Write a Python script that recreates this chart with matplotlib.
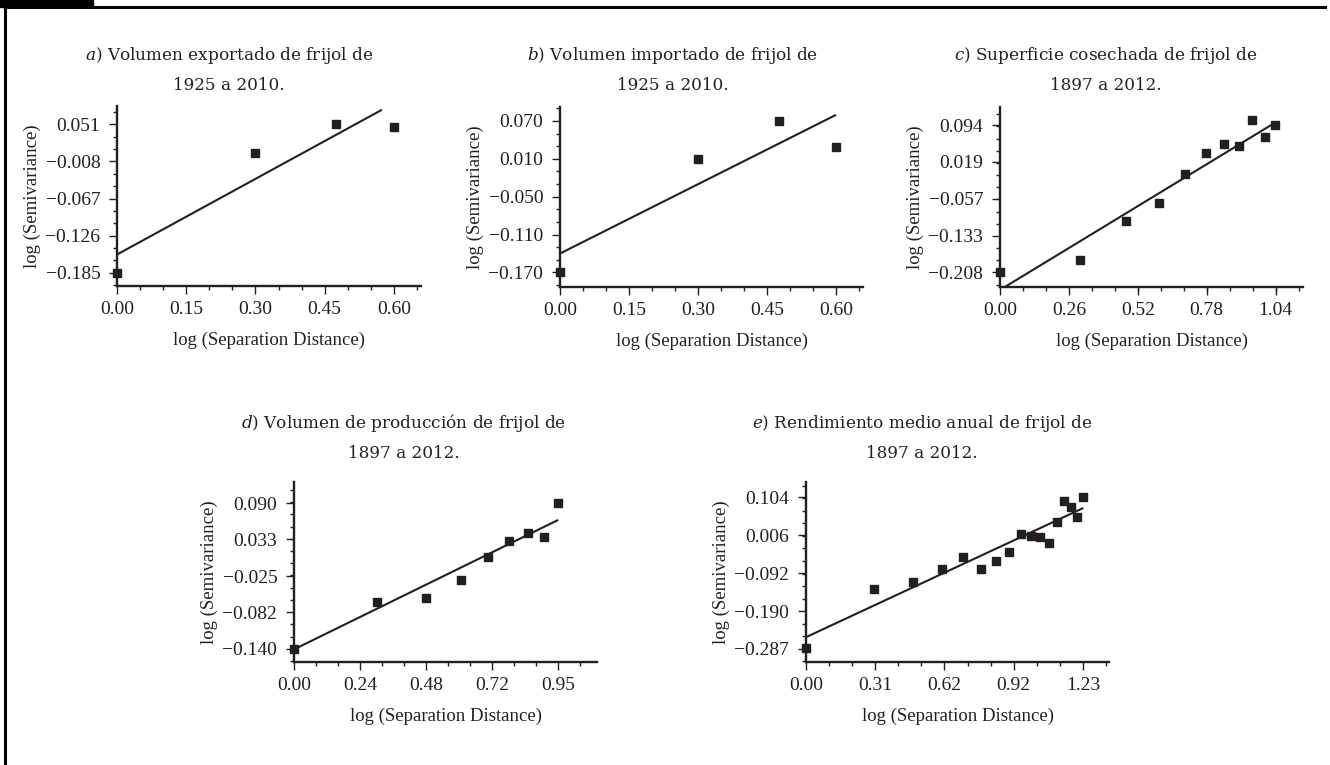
import numpy as np
import matplotlib
matplotlib.use("Agg")
import matplotlib.pyplot as plt
from matplotlib.ticker import FixedLocator, FixedFormatter
from matplotlib.lines import Line2D
from matplotlib.patches import Rectangle

W, H = 1330, 765
INK = "#231f20"

plt.rcParams["font.family"] = ["Liberation Serif", "DejaVu Serif"]
plt.rcParams["mathtext.fontset"] = "dejavuserif"

# --- data: x = log(separation distance), y = log(semivariance) ---
lag_x = [0.000, 0.301, 0.477, 0.602, 0.699, 0.778, 0.845, 0.903, 0.954,
         1.000, 1.041, 1.079, 1.114, 1.146, 1.176, 1.204, 1.230]

# a) exported volume 1925-2010
a_x = lag_x[:4]
a_y = [-0.185, 0.006, 0.051, 0.047]
a_fit_x = [0.0, 0.576]
a_fit_y = [-0.156, 0.074]
a_xticks = [0.0, 0.1505, 0.301, 0.4515, 0.602]
a_xlabels = ["0.00", "0.15", "0.30", "0.45", "0.60"]
a_yticks = [-0.185, -0.126, -0.067, -0.008, 0.051]
a_ylabels = ["\u22120.185", "\u22120.126", "\u22120.067", "\u22120.008", "0.051"]

# b) imported volume 1925-2010
b_x = lag_x[:4]
b_y = [-0.170, 0.010, 0.070, 0.028]
b_fit_x = [0.0, 0.602]
b_fit_y = [-0.140, 0.0795]
b_xticks = a_xticks
b_xlabels = a_xlabels
b_yticks = [-0.170, -0.110, -0.050, 0.010, 0.070]
b_ylabels = ["\u22120.170", "\u22120.110", "\u22120.050", "0.010", "0.070"]

# c) harvested area 1897-2012
c_x = lag_x[:11]
c_y = [-0.208, -0.182, -0.103, -0.065, -0.005, 0.038, 0.056, 0.051, 0.105, 0.071, 0.095]
c_fit_x = [0.0, 1.043]
c_fit_y = [-0.244, 0.101]
c_xticks = [0.0, 0.2604, 0.5207, 0.7811, 1.0414]
c_xlabels = ["0.00", "0.26", "0.52", "0.78", "1.04"]
c_yticks = [-0.208, -0.133, -0.057, 0.019, 0.094]
c_ylabels = ["\u22120.208", "\u22120.133", "\u22120.057", "0.019", "0.094"]

# d) production volume 1897-2012
d_x = lag_x[:9]
d_y = [-0.140, -0.066, -0.060, -0.031, 0.005, 0.030, 0.043, 0.037, 0.090]
d_fit_x = [0.0, 0.954]
d_fit_y = [-0.141, 0.064]
d_xticks = [0.0, 0.2385, 0.477, 0.7155, 0.954]
d_xlabels = ["0.00", "0.24", "0.48", "0.72", "0.95"]
d_yticks = [-0.140, -0.082, -0.025, 0.033, 0.090]
d_ylabels = ["\u22120.140", "\u22120.082", "\u22120.025", "0.033", "0.090"]

# e) mean annual yield 1897-2012
e_x = lag_x
e_y = [-0.286, -0.134, -0.116, -0.081, -0.050, -0.080, -0.060, -0.038, 0.009,
       0.004, 0.002, -0.013, 0.041, 0.094, 0.078, 0.052, 0.105]
e_fit_x = [0.0, 1.232]
e_fit_y = [-0.257, 0.076]
e_xticks = [0.0, 0.3076, 0.6152, 0.9228, 1.2304]
e_xlabels = ["0.00", "0.31", "0.62", "0.92", "1.23"]
e_yticks = [-0.287, -0.190, -0.092, 0.006, 0.104]
e_ylabels = ["\u22120.287", "\u22120.190", "\u22120.092", "0.006", "0.104"]

titles = [
    (r"$\mathit{a}$) Volumen exportado de frijol de", "1925 a 2010."),
    (r"$\mathit{b}$) Volumen importado de frijol de", "1925 a 2010."),
    (r"$\mathit{c}$) Superficie cosechada de frijol de", "1897 a 2012."),
    (r"$\mathit{d}$) Volumen de producción de frijol de", "1897 a 2012."),
    (r"$\mathit{e}$) Rendimiento medio anual de frijol de", "1897 a 2012."),
]


def minor_locs(ticks, lim):
    step = (ticks[1] - ticks[0]) / 3.0
    k0 = int(np.ceil((lim[0] - ticks[0]) / step - 1e-6))
    k1 = int(np.floor((lim[1] - ticks[0]) / step + 1e-6))
    return [ticks[0] + k * step for k in range(k0, k1 + 1)]


fig = plt.figure(figsize=(W / 100, H / 100), dpi=100)


def panel(box, x, y, fx, fy, xlim, ylim, xt, xl, yt, yl, title, tcx, ty):
    left, top, right, bottom = box
    ax = fig.add_axes([left / W, 1 - bottom / H, (right - left) / W, (bottom - top) / H])
    ax.plot(fx, fy, color=INK, lw=1.5, solid_capstyle="butt")
    ax.plot(x, y, "s", color=INK, ms=5.8, clip_on=False, zorder=3)
    ax.set_xlim(xlim)
    ax.set_ylim(ylim)
    ax.xaxis.set_major_locator(FixedLocator(xt))
    ax.xaxis.set_major_formatter(FixedFormatter(xl))
    ax.yaxis.set_major_locator(FixedLocator(yt))
    ax.yaxis.set_major_formatter(FixedFormatter(yl))
    ax.xaxis.set_minor_locator(FixedLocator(minor_locs(xt, xlim)))
    ax.yaxis.set_minor_locator(FixedLocator(minor_locs(yt, ylim)))
    for s in ("top", "right"):
        ax.spines[s].set_visible(False)
    for s in ("left", "bottom"):
        ax.spines[s].set_linewidth(1.7)
        ax.spines[s].set_color(INK)
    ax.tick_params(which="major", length=5.5, width=1.0, color=INK,
                   labelsize=14, labelcolor=INK)
    ax.tick_params(axis="y", which="major", pad=6.5)
    ax.tick_params(axis="x", which="major", pad=5.5)
    ax.tick_params(which="minor", length=3.2, width=1.0, color=INK)
    ax.set_xlabel("log (Separation Distance)", fontsize=13.5, color=INK, labelpad=10)
    ax.set_ylabel("log (Semivariance)", fontsize=13.5, color=INK, labelpad=3)
    fig.text(tcx / W, 1 - ty / H, title[0], ha="center", va="center",
             family="DejaVu Serif", fontsize=12.2, color=INK)
    fig.text(tcx / W, 1 - (ty + 30) / H, title[1], ha="center", va="center",
             family="DejaVu Serif", fontsize=12.2, color=INK)
    return ax


panel((117, 106, 421, 286), a_x, a_y, a_fit_x, a_fit_y, (0, 0.661), (-0.206, 0.080),
      a_xticks, a_xlabels, a_yticks, a_ylabels, titles[0], 229, 55)
panel((560, 107, 863, 287), b_x, b_y, b_fit_x, b_fit_y, (0, 0.661), (-0.193, 0.092),
      b_xticks, b_xlabels, b_yticks, b_ylabels, titles[1], 673, 55)
panel((1000, 107, 1303, 287), c_x, c_y, c_fit_x, c_fit_y, (0, 1.145), (-0.238, 0.132),
      c_xticks, c_xlabels, c_yticks, c_ylabels, titles[2], 1106, 55)
panel((294, 482, 597, 662), d_x, d_y, d_fit_x, d_fit_y, (0, 1.094), (-0.161, 0.124),
      d_xticks, d_xlabels, d_yticks, d_ylabels, titles[3], 404, 423)
panel((806, 482, 1109, 662), e_x, e_y, e_fit_x, e_fit_y, (0, 1.346), (-0.321, 0.143),
      e_xticks, e_xlabels, e_yticks, e_ylabels, titles[4], 922, 423)

# page frame: black tab, top rule, left rule
fig.patches.append(Rectangle((0, 1 - 7 / H), 93 / W, 7 / H, transform=fig.transFigure,
                             color="black", zorder=5))
fig.lines.append(Line2D([4.5 / W, 1325 / W], [1 - 6.5 / H, 1 - 6.5 / H],
                        transform=fig.transFigure, color="black", lw=2.2))
fig.lines.append(Line2D([4.5 / W, 4.5 / W], [1 - 6.5 / H, 0],
                        transform=fig.transFigure, color="black", lw=2.2))

fig.savefig("out.png", dpi=100)
